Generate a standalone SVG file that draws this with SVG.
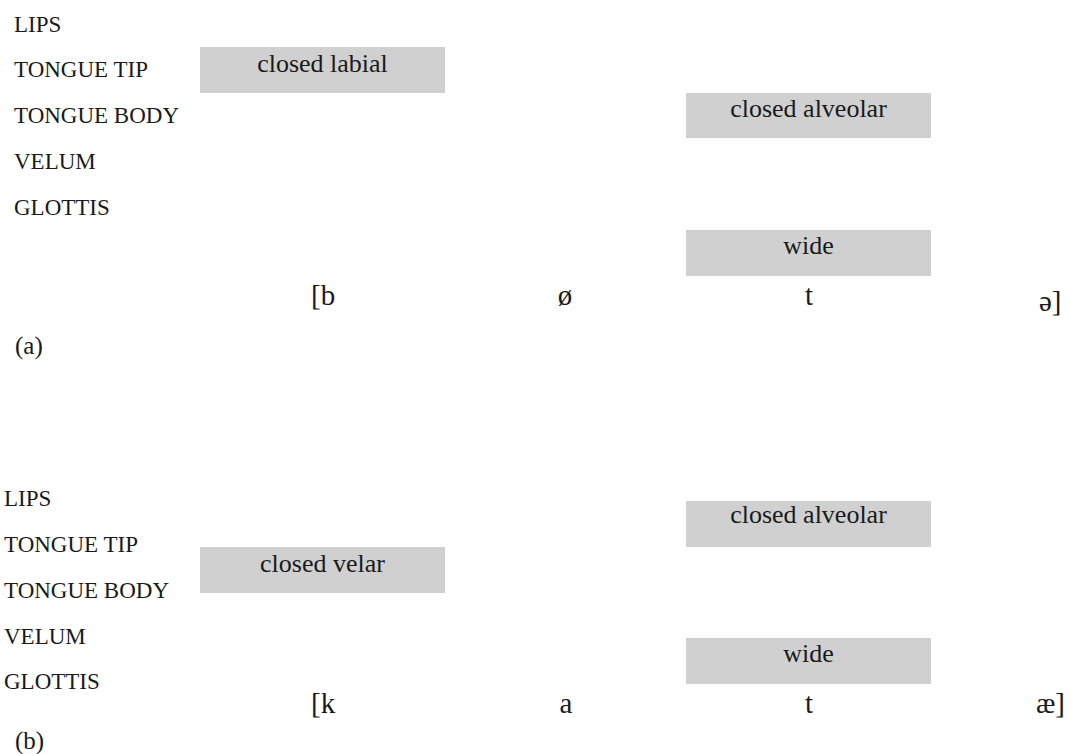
<svg xmlns="http://www.w3.org/2000/svg" width="1070" height="754" viewBox="0 0 1070 754">
  <style>
    text { font-family: "Liberation Serif", "DejaVu Serif", serif; fill: #1a1a1a; }
    .tier { font-size: 23px; }
    .gest rect { fill: #d0d0d0; }
    .gest text { font-size: 26px; text-anchor: middle; }
    .seg { font-size: 29px; }
    .panel { font-size: 25px; }
  </style>
  <rect width="1070" height="754" fill="#ffffff"/>

  <!-- Panel (a): [bøtə] -->
  <g id="tiers-a" class="tier">
    <text x="14" y="32">LIPS</text>
    <text x="14" y="77">TONGUE TIP</text>
    <text x="14" y="123">TONGUE BODY</text>
    <text x="14" y="169">VELUM</text>
    <text x="14" y="215">GLOTTIS</text>
  </g>
  <g id="a-closed-labial" class="gest">
    <rect x="200" y="47" width="245" height="46"/>
    <text x="322.5" y="72">closed labial</text>
  </g>
  <g id="a-closed-alveolar" class="gest">
    <rect x="686" y="93" width="245" height="45"/>
    <text x="808.5" y="117">closed alveolar</text>
  </g>
  <g id="a-wide" class="gest">
    <rect x="686" y="230" width="245" height="46"/>
    <text x="808.5" y="254">wide</text>
  </g>
  <g id="a-segments" class="seg">
    <text x="311" y="305">[b</text>
    <text x="565" y="305" text-anchor="middle">ø</text>
    <text x="809" y="305" text-anchor="middle">t</text>
    <text x="1039" y="311">ə]</text>
  </g>
  <text id="label-a" class="panel" x="15" y="354">(a)</text>

  <!-- Panel (b): [katæ] -->
  <g id="tiers-b" class="tier">
    <text x="4" y="506">LIPS</text>
    <text x="4" y="552">TONGUE TIP</text>
    <text x="4" y="598">TONGUE BODY</text>
    <text x="4" y="644">VELUM</text>
    <text x="4" y="689">GLOTTIS</text>
  </g>
  <g id="b-closed-velar" class="gest">
    <rect x="200" y="547" width="245" height="46"/>
    <text x="322.5" y="572">closed velar</text>
  </g>
  <g id="b-closed-alveolar" class="gest">
    <rect x="686" y="501" width="245" height="46"/>
    <text x="808.5" y="523">closed alveolar</text>
  </g>
  <g id="b-wide" class="gest">
    <rect x="686" y="638" width="245" height="46"/>
    <text x="808.5" y="662">wide</text>
  </g>
  <g id="b-segments" class="seg">
    <text x="311" y="713">[k</text>
    <text x="566" y="713" text-anchor="middle">a</text>
    <text x="809" y="713" text-anchor="middle">t</text>
    <text x="1036" y="713">æ]</text>
  </g>
  <text id="label-b" class="panel" x="15" y="749">(b)</text>

  <!-- no connectors in this figure -->
  <g id="connectors"/>
</svg>
